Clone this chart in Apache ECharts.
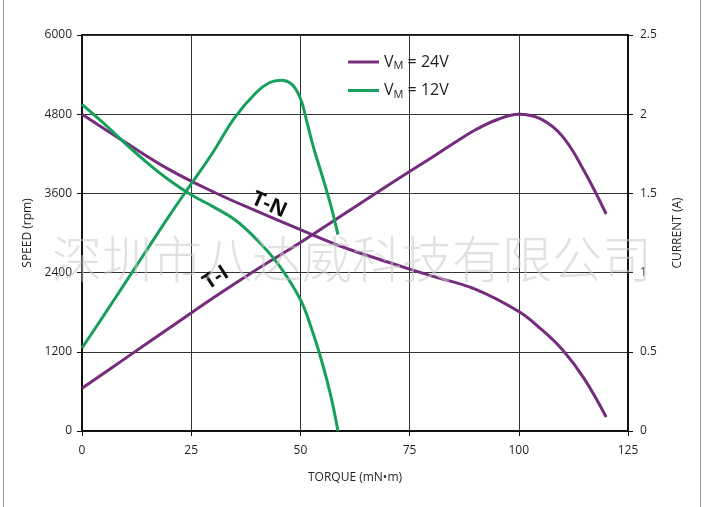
<!DOCTYPE html>
<html>
<head>
<meta charset="utf-8">
<script src="https://cdn.jsdelivr.net/npm/echarts@6/dist/echarts.min.js"></script>
<style>html,body{margin:0;padding:0;background:#fff}#c{width:707px;height:507px}</style>
</head>
<body>
<div id="c"></div>
<script>
// Torque axis (mN·m)
var xTicks = [0, 25, 50, 75, 100, 125];
var speedTicks = [0, 1200, 2400, 3600, 4800, 6000];
var currentTicks = [0, 0.5, 1, 1.5, 2, 2.5];

// VM = 24V, torque vs speed (T-N)
var torque24N = [0, 10, 20, 30, 40, 50, 60, 70, 80, 90, 100, 105, 110, 115, 120];
var speed24   = [4800, 4370, 3960, 3625, 3330, 3050, 2780, 2560, 2350, 2150, 1810, 1550, 1230, 790, 212];
// VM = 24V, torque vs current (T-I)
var torque24I = [0, 10, 20, 30, 40, 50, 60, 70, 80, 85, 90, 95, 100, 105, 110, 115, 120];
var current24 = [0.27, 0.46, 0.65, 0.84, 1.02, 1.19, 1.37, 1.55, 1.725, 1.815, 1.9, 1.965, 2.0, 1.97, 1.86, 1.64, 1.37];
// VM = 12V, torque vs speed (T-N)
var torque12N = [0, 5, 10, 15, 20, 25, 30, 35, 40, 45, 50, 52.5, 55, 57, 58.6];
var speed12   = [4950, 4660, 4350, 4060, 3800, 3580, 3400, 3200, 2900, 2520, 1990, 1560, 1030, 520, 0];
// VM = 12V, torque vs current (T-I)
var torque12I = [0, 5, 10, 15, 20, 25, 30, 35, 40, 43, 45.5, 48, 50, 51.5, 53, 55, 57, 58.6];
var current12 = [0.524, 0.73, 0.94, 1.15, 1.36, 1.56, 1.76, 1.98, 2.14, 2.2, 2.215, 2.19, 2.1, 1.95, 1.79, 1.61, 1.42, 1.24];

var name24 = 'VM = 24V', name12 = 'VM = 12V';
var purple = '#762c7c', green = '#16a05c';

function pairs(xs, ys){ return xs.map(function(x,i){ return [x, ys[i]]; }); }

var font = 'Open Sans, Liberation Sans, sans-serif';
var labelStyle = {color:'#231f20', fontSize:12, fontFamily:font};

var chart = echarts.init(document.getElementById('c'));
chart.setOption({
  animation:false,
  backgroundColor:'#fff',
  grid:{left:82, right:79, top:35, bottom:76, show:true, borderColor:'#111', borderWidth:2, backgroundColor:'transparent'},
  legend:{
    orient:'vertical', left:343, top:49, itemWidth:31, itemHeight:3, itemGap:11, icon:'rect',
    data:[name24, name12],
    formatter:function(n){ return n===name24 ? '{v|V}{s|M}{v|\u00a0= 24V}' : '{v|V}{s|M}{v|\u00a0= 12V}'; },
    textStyle:{rich:{
      v:{fontSize:16, color:'#231f20', fontFamily:font},
      s:{fontSize:11, color:'#231f20', fontFamily:font, verticalAlign:'bottom', padding:[8,0,0,0]}
    }}
  },
  xAxis:{
    type:'value', min:xTicks[0], max:xTicks[xTicks.length-1], interval:25,
    name:'TORQUE (mN\u2022m)', nameLocation:'middle', nameGap:41,
    nameTextStyle:{color:'#231f20', fontSize:12, fontFamily:font},
    axisLine:{show:true, lineStyle:{color:'#111', width:2}},
    axisTick:{show:true, inside:false, length:5, lineStyle:{color:'#111'}},
    axisLabel:Object.assign({margin:14}, labelStyle),
    splitLine:{show:true, lineStyle:{color:'#333', width:1}}
  },
  yAxis:[{
    type:'value', min:speedTicks[0], max:speedTicks[speedTicks.length-1], interval:1200,
    name:'SPEED (rpm)', nameLocation:'middle', nameGap:46, nameRotate:90,
    nameTextStyle:{color:'#231f20', fontSize:12, fontFamily:font},
    axisLine:{show:true, lineStyle:{color:'#111', width:2}},
    axisTick:{show:true, length:5, lineStyle:{color:'#111'}},
    axisLabel:Object.assign({margin:10, formatter:function(v){ return String(v); }}, labelStyle),
    splitLine:{show:true, lineStyle:{color:'#333', width:1}}
  },{
    type:'value', min:currentTicks[0], max:currentTicks[currentTicks.length-1], interval:0.5, position:'right',
    name:'CURRENT (A)', nameLocation:'middle', nameGap:44, nameRotate:90,
    nameTextStyle:{color:'#231f20', fontSize:12, fontFamily:font},
    axisLine:{show:true, lineStyle:{color:'#111', width:2}},
    axisTick:{show:true, length:5, lineStyle:{color:'#111'}},
    axisLabel:Object.assign({margin:12}, labelStyle),
    splitLine:{show:false}
  }],
  series:[
    {name:name24, type:'line', yAxisIndex:0, data:pairs(torque24N, speed24), smooth:0.4, showSymbol:false, lineStyle:{color:purple, width:3}, itemStyle:{color:purple}},
    {name:name24, type:'line', yAxisIndex:1, data:pairs(torque24I, current24), smooth:0.4, showSymbol:false, lineStyle:{color:purple, width:3}, itemStyle:{color:purple}},
    {name:name12, type:'line', yAxisIndex:0, data:pairs(torque12N, speed12), smooth:0.4, showSymbol:false, lineStyle:{color:green, width:3}, itemStyle:{color:green}},
    {name:name12, type:'line', yAxisIndex:1, data:pairs(torque12I, current12), smooth:0.4, showSymbol:false, lineStyle:{color:green, width:3}, itemStyle:{color:green}}
  ],
  graphic:[
    {type:'text', x:269, y:205, rotation:-0.42, z:10, style:{text:'T-N', fontSize:21, fontWeight:'bold', fontFamily:font, fill:'#111', align:'center', verticalAlign:'middle'}},
    {type:'text', x:216, y:278, rotation:0.57, z:10, style:{text:'T-I', fontSize:21, fontWeight:'bold', fontFamily:font, fill:'#111', align:'center', verticalAlign:'middle'}},
    {type:'text', x:352, y:259, z:20, style:{text:'深圳市八达威科技有限公司', fontSize:50, fontWeight:300, fontFamily:'Noto Sans CJK SC', fill:'rgba(200,200,200,0.55)', align:'center', verticalAlign:'middle'}},
    {type:'line', z:1, shape:{x1:3.5, y1:0, x2:3.5, y2:507}, style:{stroke:'#999', lineWidth:1}},
    {type:'line', z:1, shape:{x1:700.5, y1:0, x2:700.5, y2:507}, style:{stroke:'#999', lineWidth:1}}
  ]
});
</script>
</body>
</html>
